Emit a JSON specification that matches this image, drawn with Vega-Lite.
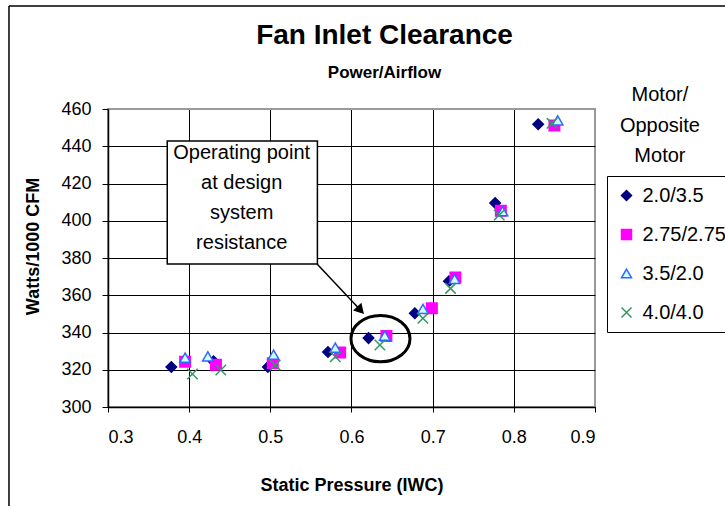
{
  "$schema": "https://vega.github.io/schema/vega-lite/v6.json",
  "width": 487,
  "height": 298,
  "autosize": {"type": "none"},
  "padding": {"left": 108, "top": 109, "right": 130, "bottom": 99},
  "background": "white",
  "config": {
    "font": "Liberation Sans",
    "view": {"stroke": "#9a9a9a", "strokeWidth": 2},
    "axis": {
      "labelFont": "Liberation Sans",
      "labelColor": "black",
      "labelFontSize": 18,
      "labelOverlap": false,
      "titleFont": "Liberation Sans",
      "titleColor": "black",
      "titleFontSize": 18,
      "titleFontWeight": "bold",
      "domainColor": "black",
      "domainWidth": 1.5,
      "tickColor": "black",
      "tickWidth": 1,
      "gridWidth": 1,
      "gridOpacity": 1
    },
    "axisX": {"tickSize": 5, "labelPadding": 16, "titlePadding": 30, "tickCount": 7},
    "axisY": {
      "tickSize": 6,
      "labelPadding": 11,
      "tickCount": 9,
      "titleX": -75,
      "titleY": 137,
      "titleAlign": "center",
      "titleBaseline": "middle",
      "titleAngle": -90
    }
  },
  "title": {
    "text": "Fan Inlet Clearance",
    "subtitle": "Power/Airflow",
    "font": "Liberation Sans",
    "subtitleFont": "Liberation Sans",
    "fontSize": 28,
    "fontWeight": "bold",
    "subtitleFontSize": 17,
    "subtitleFontWeight": "bold",
    "color": "black",
    "subtitleColor": "black",
    "anchor": "middle",
    "frame": "group",
    "dx": 33,
    "offset": -76,
    "subtitlePadding": 15
  },
  "datasets": {
    "readings": [
      {"series": "2.0/3.5", "sp": 0.378, "watts": 321.5},
      {"series": "2.0/3.5", "sp": 0.430, "watts": 324.5},
      {"series": "2.0/3.5", "sp": 0.497, "watts": 321.5},
      {"series": "2.0/3.5", "sp": 0.571, "watts": 329.5},
      {"series": "2.0/3.5", "sp": 0.621, "watts": 337.0},
      {"series": "2.0/3.5", "sp": 0.678, "watts": 350.3},
      {"series": "2.0/3.5", "sp": 0.720, "watts": 367.5},
      {"series": "2.0/3.5", "sp": 0.777, "watts": 409.5},
      {"series": "2.0/3.5", "sp": 0.830, "watts": 451.8},
      {"series": "2.75/2.75", "sp": 0.395, "watts": 324.3},
      {"series": "2.75/2.75", "sp": 0.433, "watts": 322.7},
      {"series": "2.75/2.75", "sp": 0.503, "watts": 323.5},
      {"series": "2.75/2.75", "sp": 0.586, "watts": 329.2},
      {"series": "2.75/2.75", "sp": 0.643, "watts": 338.1},
      {"series": "2.75/2.75", "sp": 0.699, "watts": 353.0},
      {"series": "2.75/2.75", "sp": 0.728, "watts": 369.6},
      {"series": "2.75/2.75", "sp": 0.784, "watts": 405.4},
      {"series": "2.75/2.75", "sp": 0.850, "watts": 451.2},
      {"series": "3.5/2.0", "sp": 0.395, "watts": 326.5},
      {"series": "3.5/2.0", "sp": 0.423, "watts": 327.2},
      {"series": "3.5/2.0", "sp": 0.504, "watts": 328.1},
      {"series": "3.5/2.0", "sp": 0.580, "watts": 331.9},
      {"series": "3.5/2.0", "sp": 0.641, "watts": 338.3},
      {"series": "3.5/2.0", "sp": 0.688, "watts": 352.7},
      {"series": "3.5/2.0", "sp": 0.727, "watts": 368.8},
      {"series": "3.5/2.0", "sp": 0.786, "watts": 405.1},
      {"series": "3.5/2.0", "sp": 0.854, "watts": 453.9},
      {"series": "4.0/4.0", "sp": 0.404, "watts": 317.7},
      {"series": "4.0/4.0", "sp": 0.439, "watts": 319.9},
      {"series": "4.0/4.0", "sp": 0.506, "watts": 322.5},
      {"series": "4.0/4.0", "sp": 0.580, "watts": 327.0},
      {"series": "4.0/4.0", "sp": 0.635, "watts": 333.3},
      {"series": "4.0/4.0", "sp": 0.688, "watts": 347.6},
      {"series": "4.0/4.0", "sp": 0.722, "watts": 363.7},
      {"series": "4.0/4.0", "sp": 0.782, "watts": 403.1},
      {"series": "4.0/4.0", "sp": 0.847, "watts": 452.3}
    ],
    "single": [{}]
  },
  "layer": [
    {
      "data": {"name": "readings"},
      "mark": {"type": "point", "filled": true, "opacity": 1, "size": 110, "strokeWidth": 1.5},
      "encoding": {
        "x": {
          "field": "sp",
          "type": "quantitative",
          "scale": {"domain": [0.3, 0.9], "nice": false, "zero": false},
          "axis": {
            "title": "Static Pressure (IWC)",
            "format": ".1f",
            "gridColor": {"condition": {"test": "datum.value >= 0.89", "value": "#9a9a9a"}, "value": "black"}
          }
        },
        "y": {
          "field": "watts",
          "type": "quantitative",
          "scale": {"domain": [300, 460], "nice": false, "zero": false},
          "axis": {
            "title": "Watts/1000 CFM",
            "gridColor": {"condition": {"test": "datum.value >= 459", "value": "#9a9a9a"}, "value": "black"}
          }
        },
        "shape": {
          "field": "series",
          "type": "nominal",
          "scale": {
            "domain": ["2.0/3.5", "2.75/2.75", "3.5/2.0", "4.0/4.0"],
            "range": ["diamond", "square", "triangle-up", "M-1,-1L1,1M1,-1L-1,1"]
          },
          "legend": {
            "orient": "none",
            "legendX": 499,
            "legendY": 67,
            "title": null,
            "strokeColor": "black",
            "padding": 9.5,
            "labelFont": "Liberation Sans",
            "labelFontSize": 20,
            "labelColor": "black",
            "labelOffset": 6,
            "symbolSize": 100,
            "symbolStrokeWidth": 1.5,
            "symbolOpacity": 1,
            "rowPadding": 19
          }
        },
        "fill": {
          "field": "series",
          "type": "nominal",
          "scale": {
            "domain": ["2.0/3.5", "2.75/2.75", "3.5/2.0", "4.0/4.0"],
            "range": ["#000080", "#ff00ff", "#ccffff", "transparent"]
          }
        },
        "stroke": {
          "field": "series",
          "type": "nominal",
          "scale": {
            "domain": ["2.0/3.5", "2.75/2.75", "3.5/2.0", "4.0/4.0"],
            "range": ["#000080", "#ff00ff", "#3366ff", "#339966"]
          }
        }
      }
    },
    {
      "data": {"name": "single"},
      "mark": {"type": "rule", "stroke": "black", "strokeWidth": 1.5},
      "encoding": {
        "x": {"datum": 0.178, "type": "quantitative"},
        "y": {"datum": 515.3, "type": "quantitative"},
        "y2": {"datum": 200}
      }
    },
    {
      "data": {"name": "single"},
      "mark": {"type": "rule", "stroke": "black", "strokeWidth": 1.5},
      "encoding": {
        "x": {"datum": 0.178, "type": "quantitative"},
        "x2": {"datum": 1.3},
        "y": {"datum": 515.3, "type": "quantitative"}
      }
    },
    {
      "data": {"name": "single"},
      "mark": {"type": "rect", "fill": "white", "stroke": "black", "strokeWidth": 1.5},
      "encoding": {
        "x": {"datum": 0.373, "type": "quantitative"},
        "x2": {"datum": 0.558},
        "y": {"datum": 442.8, "type": "quantitative"},
        "y2": {"datum": 376.8}
      }
    },
    {
      "data": {"name": "single"},
      "mark": {"type": "text", "fontSize": 20, "lineHeight": 30, "align": "center", "baseline": "middle", "color": "black"},
      "encoding": {
        "x": {"datum": 0.4647, "type": "quantitative"},
        "y": {"datum": 436.2, "type": "quantitative"},
        "text": {"value": ["Operating point", "at design", "system", "resistance"]}
      }
    },
    {
      "data": {"name": "single"},
      "mark": {"type": "rule", "stroke": "black", "strokeWidth": 1.5},
      "encoding": {
        "x": {"datum": 0.5576, "type": "quantitative"},
        "y": {"datum": 376.8, "type": "quantitative"},
        "x2": {"datum": 0.6112},
        "y2": {"datum": 351.9}
      }
    },
    {
      "data": {"name": "single"},
      "mark": {"type": "point", "shape": "triangle-up", "filled": true, "color": "black", "opacity": 1, "size": 130, "angle": 137},
      "encoding": {
        "x": {"datum": 0.6112, "type": "quantitative"},
        "y": {"datum": 351.9, "type": "quantitative"}
      }
    },
    {
      "data": {"name": "single"},
      "mark": {
        "type": "point",
        "shape": "M1,0C1,0.434 0.5523,0.785 0,0.785C-0.5523,0.785 -1,0.434 -1,0C-1,-0.434 -0.5523,-0.785 0,-0.785C0.5523,-0.785 1,-0.434 1,0Z",
        "filled": false,
        "stroke": "black",
        "strokeWidth": 3,
        "opacity": 1,
        "size": 3481
      },
      "encoding": {
        "x": {"datum": 0.6357, "type": "quantitative"},
        "y": {"datum": 336.7, "type": "quantitative"}
      }
    },
    {
      "data": {"name": "single"},
      "mark": {"type": "text", "fontSize": 20, "lineHeight": 30.5, "align": "center", "baseline": "middle", "color": "black"},
      "encoding": {
        "x": {"datum": 0.98, "type": "quantitative"},
        "y": {"datum": 467.5, "type": "quantitative"},
        "text": {"value": ["Motor/", "Opposite", "Motor"]}
      }
    }
  ]
}
